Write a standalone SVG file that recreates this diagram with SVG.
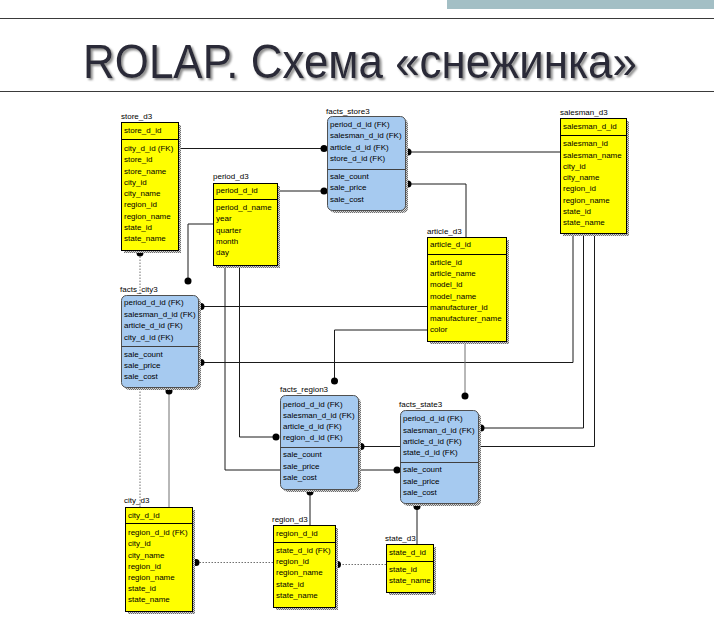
<svg xmlns="http://www.w3.org/2000/svg" width="714" height="628" viewBox="0 0 714 628">
<defs>
<pattern id="chk" width="2" height="2" patternUnits="userSpaceOnUse">
<rect width="2" height="2" fill="#d8d8d8"/>
<rect width="1" height="1" fill="#6e6e6e"/>
<rect x="1" y="1" width="1" height="1" fill="#6e6e6e"/>
</pattern>
<filter id="tsh" x="-5%" y="-20%" width="110%" height="140%">
<feGaussianBlur in="SourceAlpha" stdDeviation="0.8"/>
<feOffset dx="2" dy="2" result="o"/>
<feFlood flood-color="#8c8c8c"/>
<feComposite in2="o" operator="in" result="s"/>
<feMerge><feMergeNode in="s"/><feMergeNode in="SourceGraphic"/></feMerge>
</filter>
</defs>
<style>
.t{font-family:"Liberation Sans",Arial,sans-serif;font-size:8px;fill:#000}
.ttl{font-family:"Liberation Sans",Arial,sans-serif;font-size:49px;fill:#2b2b38}
.y{fill:#ffff00;stroke:#000;stroke-width:1}
.b{fill:#a6caf0;stroke:#505050;stroke-width:1}
.sh{fill:url(#chk)}
.dv{stroke:#000;stroke-width:1}
.dvb{stroke:#404040;stroke-width:1}
.c{fill:none;stroke:#1a1a1a;stroke-width:1}
.g{stroke:#707070}
.d{stroke:#707070;stroke-dasharray:1.5 1.5}
.dot{fill:#000}
.hl{stroke:#3a3a3a;stroke-width:1.2}
</style>
<rect width="714" height="628" fill="#fff"/>
<g id="header">
<rect x="447" y="0" width="267" height="9" fill="#a3bfc5"/>
<line class="hl" x1="0" y1="18.5" x2="714" y2="18.5"/>
<line class="hl" x1="0" y1="91.5" x2="714" y2="91.5"/>
<text class="ttl" x="83" y="78" filter="url(#tsh)" textLength="554" lengthAdjust="spacingAndGlyphs">ROLAP. Схема «снежинка»</text>
</g>
<g id="connectors">
<path class="c" d="M178 148.5H324"/><circle class="dot" cx="324" cy="148.5" r="3.5"/>
<path class="c" d="M277 191H324"/><circle class="dot" cx="324" cy="191" r="3.5"/>
<path class="c" d="M560 152H408"/><circle class="dot" cx="408" cy="152" r="3.5"/>
<path class="c" d="M466 237V184H408"/><circle class="dot" cx="408" cy="184" r="3.5"/>
<path class="c d" d="M140 507V253"/><circle class="dot" cx="140" cy="253" r="3.5"/>
<path class="c g" d="M169 507V391"/><circle class="dot" cx="169" cy="391" r="3.5"/>
<path class="c" d="M213 224H188V281"/><circle class="dot" cx="188" cy="281" r="3.5"/>
<path class="c" d="M427 306.5H201"/><circle class="dot" cx="201" cy="306.5" r="3.5"/>
<path class="c" d="M573 233V362.5H201"/><circle class="dot" cx="201" cy="362.5" r="3.5"/>
<path class="c" d="M427 330H334.5V381"/><circle class="dot" cx="334.5" cy="381" r="3.5"/>
<path class="c g" d="M465 341V396"/><circle class="dot" cx="465" cy="396" r="3.5"/>
<path class="c" d="M583.5 233V428H481"/><circle class="dot" cx="481" cy="428" r="3.5"/>
<path class="c" d="M594.5 233V446.5H361"/><circle class="dot" cx="361" cy="446.5" r="3.5"/>
<path class="c" d="M225 265V470H397"/><circle class="dot" cx="397" cy="470" r="3.5"/>
<path class="c" d="M239.5 265V437H276"/><circle class="dot" cx="276" cy="437" r="3.5"/>
<path class="c" d="M310 525V492"/><circle class="dot" cx="310" cy="492" r="3.5"/>
<path class="c" d="M417 544V506.5"/><circle class="dot" cx="417" cy="506.5" r="3.5"/>
<path class="c d" d="M273 562.5H196"/><circle class="dot" cx="196" cy="562.5" r="3.5"/>
<path class="c d" d="M386 564.5H337.5"/><circle class="dot" cx="337.5" cy="564.5" r="3.5"/>
</g>
<g id="store_d3">
<text class="t" x="121" y="118.5">store_d3</text>
<rect class="sh" x="124" y="125" width="57" height="128"/>
<rect class="y" x="121.5" y="122.5" width="57" height="128"/>
<line class="dv" x1="121.5" y1="139.5" x2="178.5" y2="139.5"/>
<text class="t" x="124" y="133">store_d_id</text>
<text class="t" x="124" y="151">city_d_id (FK)</text>
<text class="t" x="124" y="162.3">store_id</text>
<text class="t" x="124" y="173.5">store_name</text>
<text class="t" x="124" y="184.8">city_id</text>
<text class="t" x="124" y="196">city_name</text>
<text class="t" x="124" y="207.3">region_id</text>
<text class="t" x="124" y="218.5">region_name</text>
<text class="t" x="124" y="229.8">state_id</text>
<text class="t" x="124" y="241">state_name</text>
</g>
<g id="period_d3">
<text class="t" x="213" y="179">period_d3</text>
<rect class="sh" x="216" y="186" width="64" height="82"/>
<rect class="y" x="213.5" y="183.5" width="64" height="82"/>
<line class="dv" x1="213.5" y1="199.5" x2="277.5" y2="199.5"/>
<text class="t" x="216" y="193">period_d_id</text>
<text class="t" x="216" y="210">period_d_name</text>
<text class="t" x="216" y="221.3">year</text>
<text class="t" x="216" y="232.6">quarter</text>
<text class="t" x="216" y="243.9">month</text>
<text class="t" x="216" y="255.2">day</text>
</g>
<g id="facts_store3">
<text class="t" x="326" y="114">facts_store3</text>
<rect class="sh" x="330" y="119" width="78" height="94" rx="5"/>
<rect class="b" x="327.5" y="116.5" width="78" height="94" rx="5"/>
<line class="dvb" x1="327.5" y1="169.5" x2="405.5" y2="169.5"/>
<text class="t" x="330" y="126.5">period_d_id (FK)</text>
<text class="t" x="330" y="138">salesman_d_id (FK)</text>
<text class="t" x="330" y="149.5">article_d_id (FK)</text>
<text class="t" x="330" y="161">store_d_id (FK)</text>
<text class="t" x="330" y="178.5">sale_count</text>
<text class="t" x="330" y="190">sale_price</text>
<text class="t" x="330" y="201.5">sale_cost</text>
</g>
<g id="salesman_d3">
<text class="t" x="560" y="114.5">salesman_d3</text>
<rect class="sh" x="563" y="121" width="66" height="115"/>
<rect class="y" x="560.5" y="118.5" width="66" height="115"/>
<line class="dv" x1="560.5" y1="135.5" x2="626.5" y2="135.5"/>
<text class="t" x="563" y="129">salesman_d_id</text>
<text class="t" x="563" y="146.3">salesman_id</text>
<text class="t" x="563" y="157.5">salesman_name</text>
<text class="t" x="563" y="168.8">city_id</text>
<text class="t" x="563" y="180">city_name</text>
<text class="t" x="563" y="191.3">region_id</text>
<text class="t" x="563" y="202.5">region_name</text>
<text class="t" x="563" y="213.7">state_id</text>
<text class="t" x="563" y="225">state_name</text>
</g>
<g id="article_d3">
<text class="t" x="427" y="233.5">article_d3</text>
<rect class="sh" x="430" y="240" width="79" height="104"/>
<rect class="y" x="427.5" y="237.5" width="79" height="104"/>
<line class="dv" x1="427.5" y1="254.5" x2="506.5" y2="254.5"/>
<text class="t" x="430" y="247">article_d_id</text>
<text class="t" x="430" y="264.7">article_id</text>
<text class="t" x="430" y="276">article_name</text>
<text class="t" x="430" y="287.2">model_id</text>
<text class="t" x="430" y="298.5">model_name</text>
<text class="t" x="430" y="309.8">manufacturer_id</text>
<text class="t" x="430" y="321">manufacturer_name</text>
<text class="t" x="430" y="332.3">color</text>
</g>
<g id="facts_city3">
<text class="t" x="120" y="292">facts_city3</text>
<rect class="sh" x="124" y="298" width="77" height="92" rx="5"/>
<rect class="b" x="121.5" y="295.5" width="77" height="92" rx="5"/>
<line class="dvb" x1="121.5" y1="346.5" x2="198.5" y2="346.5"/>
<text class="t" x="124" y="305">period_d_id (FK)</text>
<text class="t" x="124" y="316.5">salesman_d_id (FK)</text>
<text class="t" x="124" y="328">article_d_id (FK)</text>
<text class="t" x="124" y="339.5">city_d_id (FK)</text>
<text class="t" x="124" y="356.7">sale_count</text>
<text class="t" x="124" y="368">sale_price</text>
<text class="t" x="124" y="379">sale_cost</text>
</g>
<g id="facts_region3">
<text class="t" x="280" y="392">facts_region3</text>
<rect class="sh" x="283" y="398" width="78" height="94" rx="5"/>
<rect class="b" x="280.5" y="395.5" width="78" height="94" rx="5"/>
<line class="dvb" x1="280.5" y1="447.5" x2="358.5" y2="447.5"/>
<text class="t" x="283" y="406.7">period_d_id (FK)</text>
<text class="t" x="283" y="418">salesman_d_id (FK)</text>
<text class="t" x="283" y="429.2">article_d_id (FK)</text>
<text class="t" x="283" y="440.3">region_d_id (FK)</text>
<text class="t" x="283" y="457">sale_count</text>
<text class="t" x="283" y="469">sale_price</text>
<text class="t" x="283" y="480.3">sale_cost</text>
</g>
<g id="facts_state3">
<text class="t" x="399" y="406.5">facts_state3</text>
<rect class="sh" x="403" y="413" width="78" height="93" rx="5"/>
<rect class="b" x="400.5" y="410.5" width="78" height="93" rx="5"/>
<line class="dvb" x1="400.5" y1="462.5" x2="478.5" y2="462.5"/>
<text class="t" x="403" y="421.3">period_d_id (FK)</text>
<text class="t" x="403" y="433">salesman_d_id (FK)</text>
<text class="t" x="403" y="444.2">article_d_id (FK)</text>
<text class="t" x="403" y="455.3">state_d_id (FK)</text>
<text class="t" x="403" y="472.3">sale_count</text>
<text class="t" x="403" y="483.7">sale_price</text>
<text class="t" x="403" y="494.7">sale_cost</text>
</g>
<g id="city_d3">
<text class="t" x="124" y="503">city_d3</text>
<rect class="sh" x="128" y="510" width="67" height="104"/>
<rect class="y" x="125.5" y="507.5" width="67" height="104"/>
<line class="dv" x1="125.5" y1="523.5" x2="192.5" y2="523.5"/>
<text class="t" x="128" y="517.7">city_d_id</text>
<text class="t" x="128" y="535.3">region_d_id (FK)</text>
<text class="t" x="128" y="546.4">city_id</text>
<text class="t" x="128" y="557.5">city_name</text>
<text class="t" x="128" y="568.6">region_id</text>
<text class="t" x="128" y="579.7">region_name</text>
<text class="t" x="128" y="590.8">state_id</text>
<text class="t" x="128" y="601.9">state_name</text>
</g>
<g id="region_d3">
<text class="t" x="272" y="522">region_d3</text>
<rect class="sh" x="276" y="528" width="62" height="82"/>
<rect class="y" x="273.5" y="525.5" width="62" height="82"/>
<line class="dv" x1="273.5" y1="542.5" x2="335.5" y2="542.5"/>
<text class="t" x="276" y="535.7">region_d_id</text>
<text class="t" x="276" y="552.7">state_d_id (FK)</text>
<text class="t" x="276" y="564">region_id</text>
<text class="t" x="276" y="575.3">region_name</text>
<text class="t" x="276" y="586.6">state_id</text>
<text class="t" x="276" y="597.9">state_name</text>
</g>
<g id="state_d3">
<text class="t" x="385" y="540.5">state_d3</text>
<rect class="sh" x="389" y="547" width="47" height="48"/>
<rect class="y" x="386.5" y="544.5" width="47" height="48"/>
<line class="dv" x1="386.5" y1="561.5" x2="433.5" y2="561.5"/>
<text class="t" x="389" y="555">state_d_id</text>
<text class="t" x="389" y="571.5">state_id</text>
<text class="t" x="389" y="583">state_name</text>
</g>
</svg>
